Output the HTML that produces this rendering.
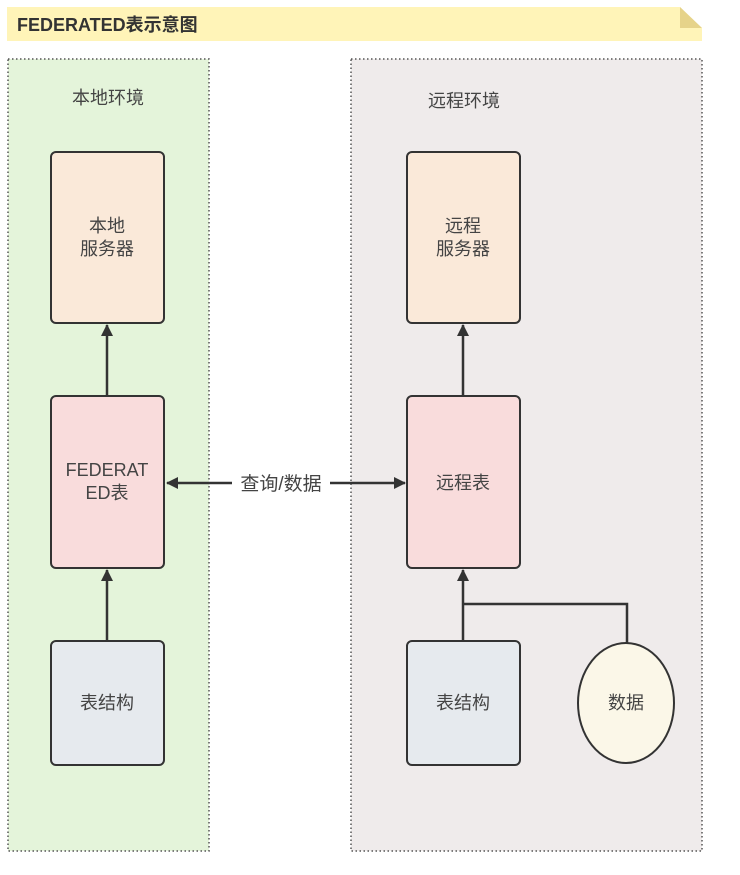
<!DOCTYPE html>
<html><head><meta charset="utf-8"><style>
body{margin:0;background:#fff;}
text{font-family:"Liberation Sans","Noto Sans CJK SC",sans-serif;}
</style></head><body>
<svg width="740" height="870" xmlns="http://www.w3.org/2000/svg">
<defs>
<marker id="a" markerWidth="12" markerHeight="12" refX="11" refY="6" orient="auto" markerUnits="userSpaceOnUse">
<path d="M0,0 L12,6 L0,12 z" fill="#333"/></marker>
<marker id="s" markerWidth="12" markerHeight="12" refX="1" refY="6" orient="auto" markerUnits="userSpaceOnUse">
<path d="M12,0 L0,6 L12,12 z" fill="#333"/></marker>
</defs>
<path d="M7,7 H680 L702,28 V41 H7 Z" fill="#fff4b8"/>
<path d="M680,7 L702,28 H680 Z" fill="#e6d38a"/>
<text x="17" y="31" font-size="18" font-weight="bold" fill="#333">FEDERATED表示意图</text>
<rect x="8" y="59" width="201" height="792" fill="#e4f4da" stroke="#555" stroke-width="1.5" stroke-dasharray="1.5,2.5"/>
<rect x="351" y="59" width="351" height="792" fill="#efebeb" stroke="#555" stroke-width="1.5" stroke-dasharray="1.5,2.5"/>
<text x="108" y="104" font-size="18" fill="#444" text-anchor="middle">本地环境</text>
<text x="464" y="107" font-size="18" fill="#444" text-anchor="middle">远程环境</text>
<g stroke="#333" stroke-width="2">
<rect x="51" y="152" width="113" height="171" rx="5" fill="#fae9d9"/>
<rect x="51" y="396" width="113" height="172" rx="5" fill="#f9dcdc"/>
<rect x="51" y="641" width="113" height="124" rx="5" fill="#e6eaee"/>
<rect x="407" y="152" width="113" height="171" rx="5" fill="#fae9d9"/>
<rect x="407" y="396" width="113" height="172" rx="5" fill="#f9dcdc"/>
<rect x="407" y="641" width="113" height="124" rx="5" fill="#e6eaee"/>
<ellipse cx="626" cy="703" rx="48" ry="60" fill="#fbf7e8"/>
</g>
<g stroke="#333" stroke-width="2.5" fill="none">
<line x1="107" y1="396" x2="107" y2="325" marker-end="url(#a)"/>
<line x1="107" y1="641" x2="107" y2="570" marker-end="url(#a)"/>
<line x1="463" y1="396" x2="463" y2="325" marker-end="url(#a)"/>
<line x1="463" y1="641" x2="463" y2="570" marker-end="url(#a)"/>
<polyline points="463,604 627,604 627,643"/>
<line x1="167" y1="483" x2="232" y2="483" marker-start="url(#s)"/>
<line x1="330" y1="483" x2="405" y2="483" marker-end="url(#a)"/>
</g>
<g font-size="18" fill="#444" text-anchor="middle">
<text x="107" y="232">本地</text><text x="107" y="255">服务器</text>
<text x="107" y="476">FEDERAT</text><text x="107" y="499">ED表</text>
<text x="107" y="709">表结构</text>
<text x="463" y="232">远程</text><text x="463" y="255">服务器</text>
<text x="463" y="489">远程表</text>
<text x="463" y="709">表结构</text>
<text x="626" y="709">数据</text>
<text x="281" y="490" font-size="19">查询/数据</text>
</g>
</svg>
</body></html>
